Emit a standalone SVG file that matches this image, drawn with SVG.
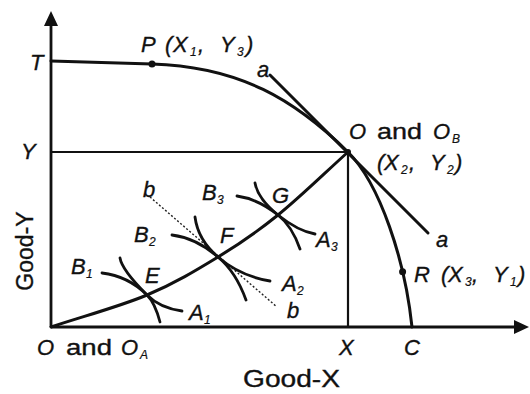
<svg xmlns="http://www.w3.org/2000/svg" width="530" height="394" viewBox="0 0 530 394">
<style>
text{font-family:"Liberation Sans",Arial,sans-serif;font-size:22px;fill:#111;stroke:#111;stroke-width:0.35}
.it{font-style:italic}
.sub{font-size:12px;font-style:italic;stroke-width:0.2}
.ax{stroke:#111;stroke-width:2.8;fill:none}
.cv{stroke:#111;stroke-width:3;fill:none;stroke-linecap:round}
.ln{stroke:#111;stroke-width:2.2;fill:none}
.ic{stroke:#111;stroke-width:2.8;fill:none;stroke-linecap:round}
.dash{stroke:#222;stroke-width:1.4;stroke-dasharray:2 2;fill:none}
.dot{fill:#111}
</style>
<g id="axes">
<line class="ax" x1="51" y1="327" x2="51" y2="22"/>
<polygon class="dot" points="51,11 44,26 58,26"/>
<line class="ax" x1="51" y1="327" x2="516" y2="327"/>
<polygon class="dot" points="529,327 514,320 514,334"/>
<text class="it" x="30" y="70">T</text>
<text class="it" x="21" y="159">Y</text>
<text class="it" x="339" y="355">X</text>
<text class="it" x="404" y="355">C</text>
<text x="243" y="387" textLength="97" lengthAdjust="spacingAndGlyphs" style="font-size:23px">Good-X</text>
<text transform="translate(33,251) rotate(-90)" text-anchor="middle" style="font-size:23px">Good-Y</text>
</g>
<g id="connectors">
<path class="cv" d="M51,61 L152,64 C240,66.6 295,100 348,152 C380,184 405,260 412,327"/>
<line class="cv" x1="270" y1="75" x2="428" y2="233"/>
<line class="ln" x1="51" y1="152" x2="348" y2="152"/>
<line class="ln" x1="348" y1="152" x2="348" y2="327"/>
<path class="cv" d="M51,327 C83,316.3 119.2,306.7 147,295 C174.8,283.3 196.2,270.3 218,257 C239.8,243.7 256.3,232.5 278,215 C299.7,197.5 324.7,173 348,152"/>
<line class="dash" x1="150" y1="197" x2="277" y2="307"/>
<text class="it" x="257" y="77">a</text>
<text class="it" x="436" y="247">a</text>
<text class="it" x="143" y="197">b</text>
<text class="it" x="287" y="318">b</text>
</g>
<g id="node-P">
<circle class="dot" cx="152" cy="64" r="3.5"/>
<text class="it" x="141" y="52">P</text>
<text class="it" x="165" y="52">(</text>
<text class="it" x="173" y="52">X</text>
<text class="sub" x="190" y="56">1</text>
<text class="it" x="198" y="52">,</text>
<text class="it" x="220" y="52">Y</text>
<text class="sub" x="237" y="56">3</text>
<text class="it" x="246" y="52">)</text>
</g>
<g id="node-OB">
<circle class="dot" cx="348" cy="152" r="3"/>
<text class="it" x="349" y="139">O</text>
<text x="377" y="139" textLength="45" lengthAdjust="spacingAndGlyphs">and</text>
<text class="it" x="433" y="139">O</text>
<text class="sub" x="452" y="143">B</text>
<text class="it" x="377" y="170">(</text>
<text class="it" x="384" y="170">X</text>
<text class="sub" x="401" y="174">2</text>
<text class="it" x="409" y="170">,</text>
<text class="it" x="430" y="170">Y</text>
<text class="sub" x="447" y="174">2</text>
<text class="it" x="455" y="170">)</text>
</g>
<g id="node-R">
<circle class="dot" cx="402.6" cy="271.8" r="3.5"/>
<text class="it" x="414" y="282">R</text>
<text class="it" x="441" y="282">(</text>
<text class="it" x="448" y="282">X</text>
<text class="sub" x="465" y="286">3</text>
<text class="it" x="472" y="282">,</text>
<text class="it" x="493" y="282">Y</text>
<text class="sub" x="510" y="286">1</text>
<text class="it" x="518" y="282">)</text>
</g>
<g id="node-OA">
<text class="it" x="37" y="355">O</text>
<text x="66" y="355" textLength="46" lengthAdjust="spacingAndGlyphs">and</text>
<text class="it" x="121" y="355">O</text>
<text class="sub" x="140" y="359">A</text>
</g>
<g id="node-E">
<path class="ic" d="M102,273 Q128,276 147,295 Q155,303 160,322"/>
<path class="ic" d="M120,258 Q122,270 147,295 Q160,308 182,311"/>
<text class="it" x="145" y="283">E</text>
<text class="it" x="71" y="274">B</text>
<text class="sub" x="86" y="278">1</text>
<text class="it" x="189" y="320">A</text>
<text class="sub" x="204" y="324">1</text>
</g>
<g id="node-F">
<path class="ic" d="M172,235 Q196,238 218,257 Q236,272 246,300"/>
<path class="ic" d="M195,217 Q198,240 218,257 Q240,276 270,281"/>
<text class="it" x="220" y="243">F</text>
<text class="it" x="134" y="242">B</text>
<text class="sub" x="149" y="246">2</text>
<text class="it" x="282" y="291">A</text>
<text class="sub" x="297" y="295">2</text>
</g>
<g id="node-G">
<path class="ic" d="M237,196 Q258,199 278,215 Q292,226 300,249"/>
<path class="ic" d="M255,183 Q258,199 278,215 Q298,231 315,234"/>
<text class="it" x="272" y="203">G</text>
<text class="it" x="202" y="200">B</text>
<text class="sub" x="217" y="204">3</text>
<text class="it" x="316" y="247">A</text>
<text class="sub" x="331" y="251">3</text>
</g>
</svg>
